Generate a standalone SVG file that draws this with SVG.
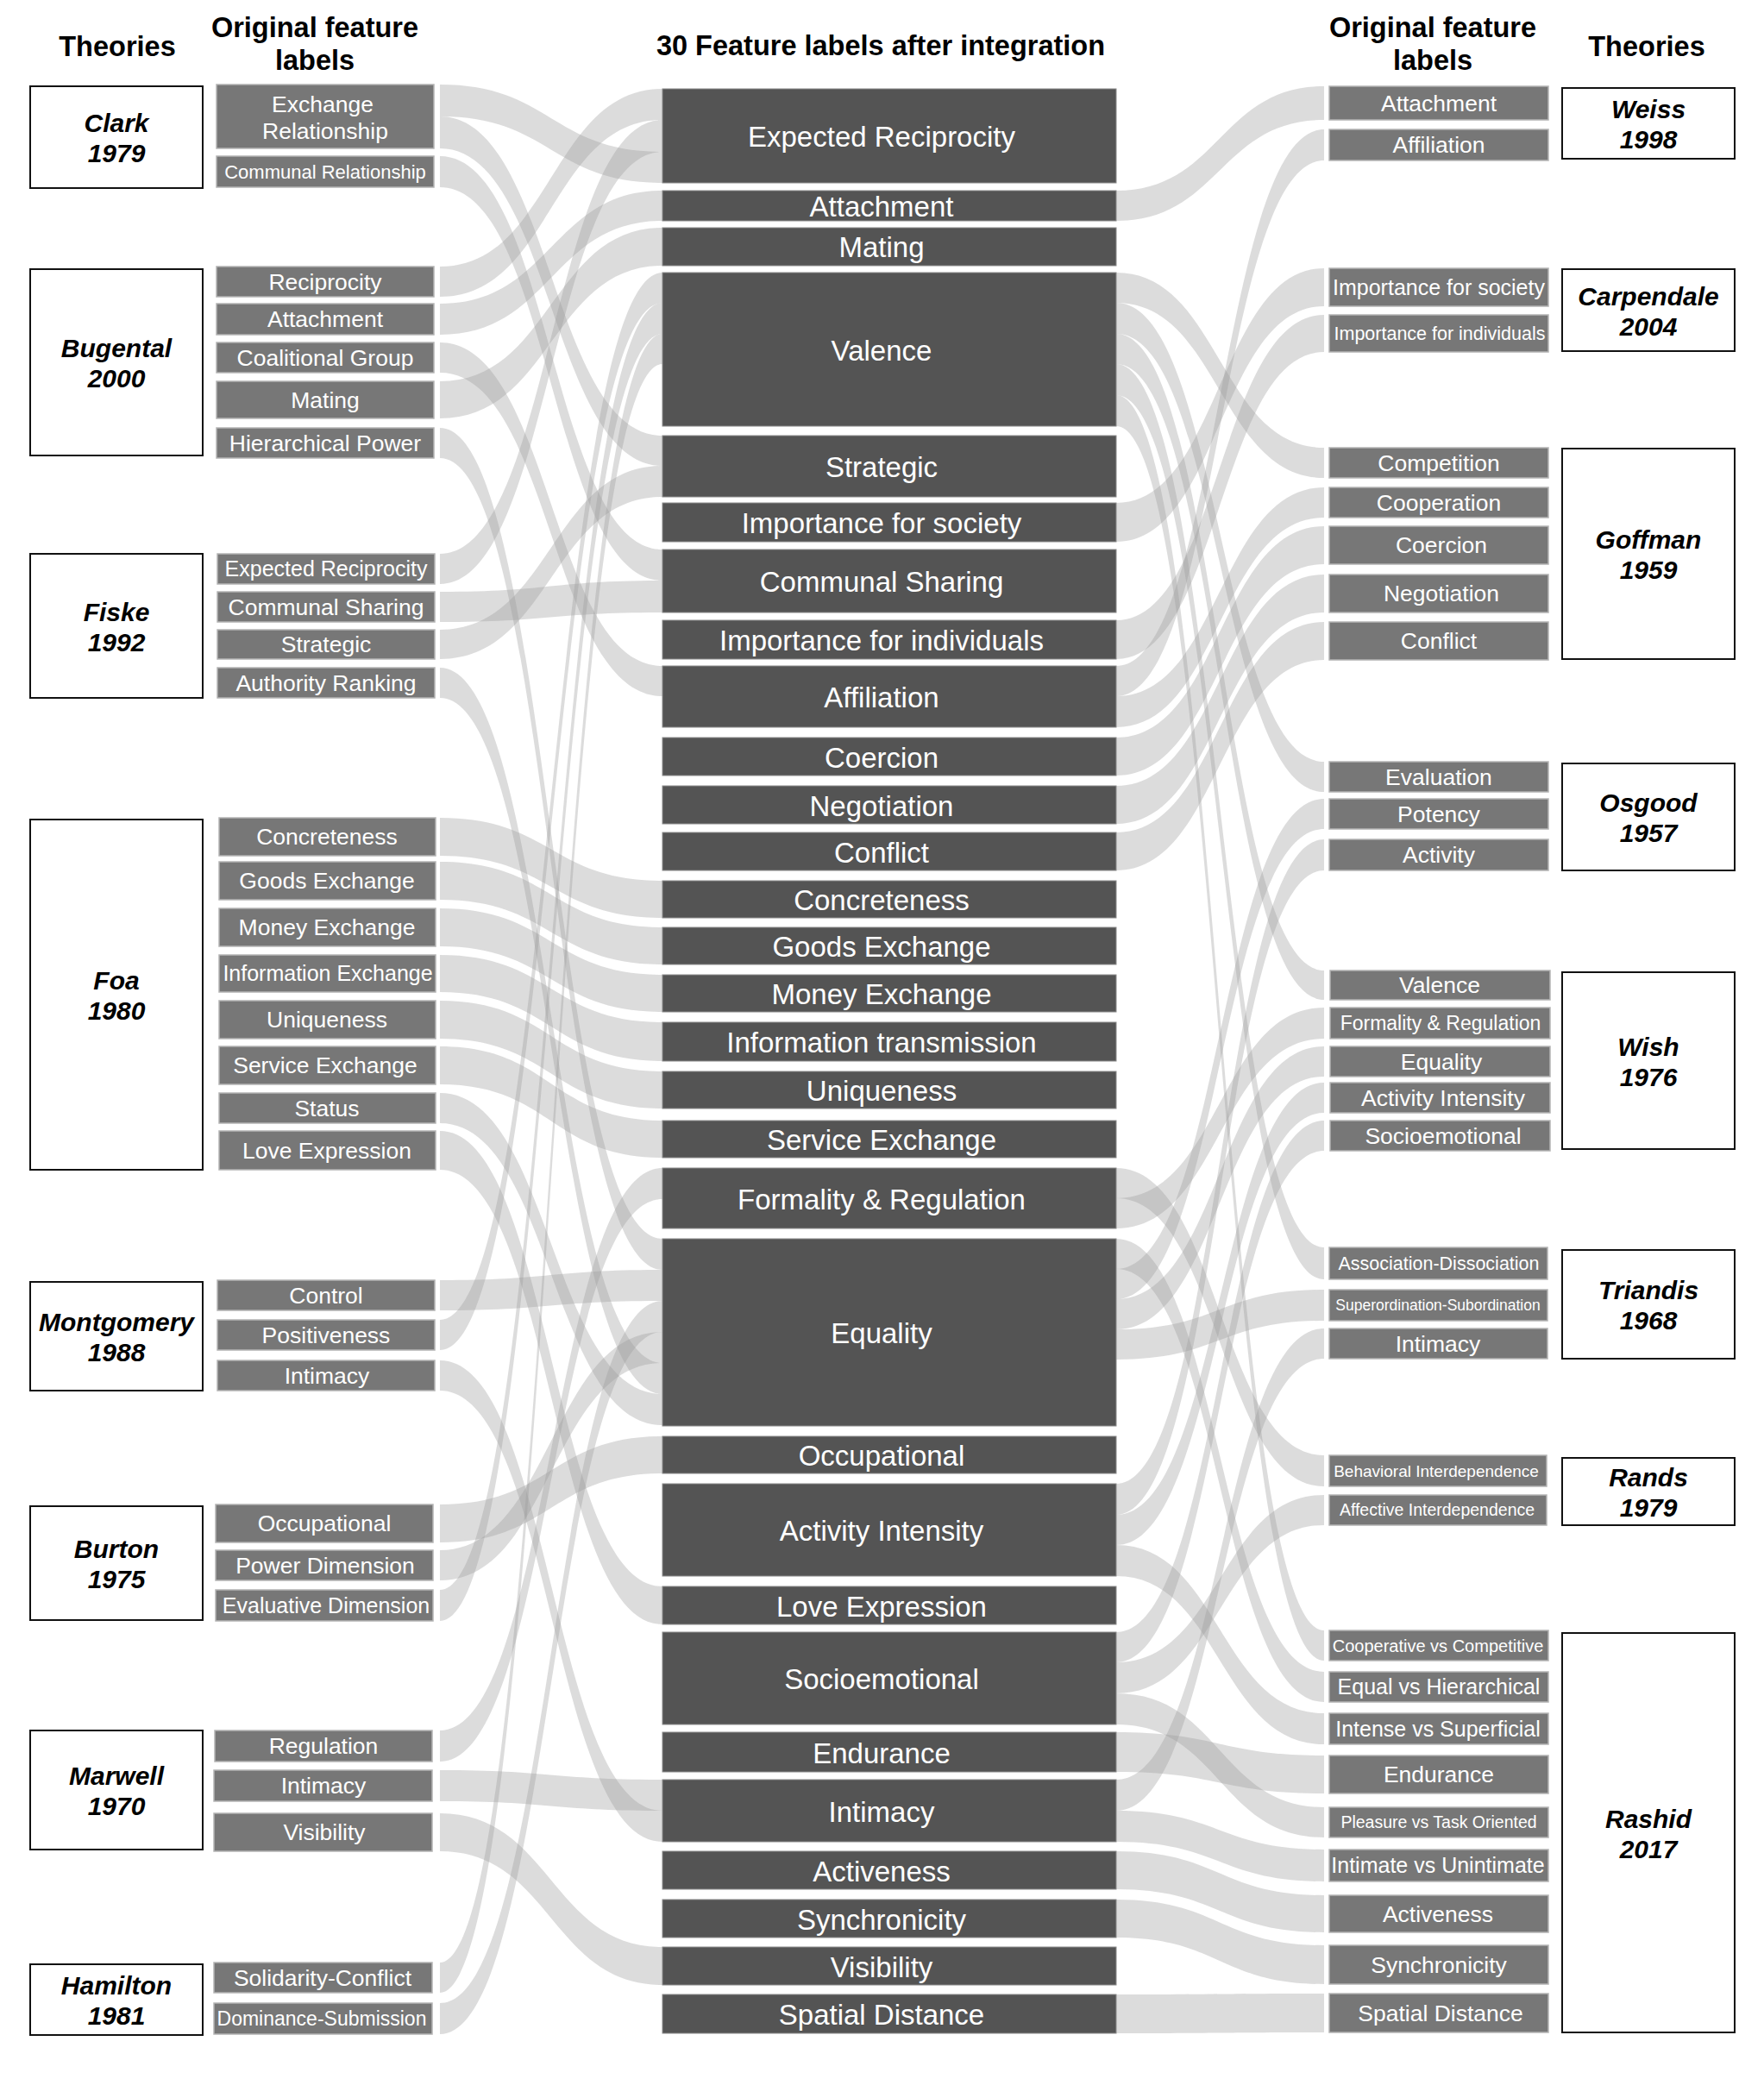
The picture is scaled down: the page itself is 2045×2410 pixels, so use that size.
<svg xmlns="http://www.w3.org/2000/svg" width="2045" height="2410" viewBox="0 0 2045 2410">
<style>
.hd{font-family:"Liberation Sans",Arial,sans-serif;font-weight:bold;font-size:32.5px;text-anchor:middle;fill:#000}
.th{font-family:"Liberation Sans",Arial,sans-serif;font-weight:bold;font-style:italic;font-size:30px;text-anchor:middle;fill:#000}
.tb{fill:#fff;stroke:#111;stroke-width:2}
.fb{fill:#777;stroke:#b4b4b4;stroke-width:1.5}
.mb{fill:#545454;stroke:#8a8a8a;stroke-width:1}
.lt{font-family:"Liberation Sans",Arial,sans-serif;font-size:26.5px;text-anchor:middle;fill:#fff}
.mt{font-family:"Liberation Sans",Arial,sans-serif;font-size:33px;text-anchor:middle;fill:#fff}
.cn path{fill:#999;fill-opacity:0.34}
</style>
<rect width="2045" height="2410" fill="#fff"/>
<g id="headers">
<text class="hd" x="136" y="65">Theories</text>
<text class="hd" x="365" y="43">Original feature</text>
<text class="hd" x="365" y="81">labels</text>
<text class="hd" x="1021" y="64">30 Feature labels after integration</text>
<text class="hd" x="1661" y="43">Original feature</text>
<text class="hd" x="1661" y="81">labels</text>
<text class="hd" x="1909" y="65">Theories</text>
</g>
<g id="connectors" class="cn">
<path d="M510,98 C639,98 639,176 768,176 L768,212 C639,212 639,135 510,135 Z"/>
<path d="M510,135 C639,135 639,505 768,505 L768,540 C639,540 639,172 510,172 Z"/>
<path d="M510,181 C639,181 639,637 768,637 L768,673 C639,673 639,217 510,217 Z"/>
<path d="M510,309 C639,309 639,103 768,103 L768,139 C639,139 639,344 510,344 Z"/>
<path d="M510,352 C639,352 639,221 768,221 L768,256 C639,256 639,388 510,388 Z"/>
<path d="M510,397 C639,397 639,772 768,772 L768,807 C639,807 639,432 510,432 Z"/>
<path d="M510,442 C639,442 639,264 768,264 L768,308 C639,308 639,485 510,485 Z"/>
<path d="M510,496 C639,496 639,1436 768,1436 L768,1472 C639,1472 639,531 510,531 Z"/>
<path d="M510,642 C639,642 639,139 768,139 L768,176 C639,176 639,677 510,677 Z"/>
<path d="M510,686 C639,686 639,673 768,673 L768,710 C639,710 639,721 510,721 Z"/>
<path d="M510,730 C639,730 639,540 768,540 L768,576 C639,576 639,764 510,764 Z"/>
<path d="M510,774 C639,774 639,1580 768,1580 L768,1616 C639,1616 639,809 510,809 Z"/>
<path d="M510,948 C639,948 639,1021 768,1021 L768,1064 C639,1064 639,992 510,992 Z"/>
<path d="M510,999 C639,999 639,1075 768,1075 L768,1118 C639,1118 639,1043 510,1043 Z"/>
<path d="M510,1053 C639,1053 639,1130 768,1130 L768,1173 C639,1173 639,1097 510,1097 Z"/>
<path d="M510,1107 C639,1107 639,1185 768,1185 L768,1230 C639,1230 639,1150 510,1150 Z"/>
<path d="M510,1160 C639,1160 639,1242 768,1242 L768,1285 C639,1285 639,1204 510,1204 Z"/>
<path d="M510,1213 C639,1213 639,1299 768,1299 L768,1342 C639,1342 639,1257 510,1257 Z"/>
<path d="M510,1267 C639,1267 639,1616 768,1616 L768,1652 C639,1652 639,1302 510,1302 Z"/>
<path d="M510,1311 C639,1311 639,1839 768,1839 L768,1883 C639,1883 639,1356 510,1356 Z"/>
<path d="M510,1484 C639,1484 639,1472 768,1472 L768,1508 C639,1508 639,1519 510,1519 Z"/>
<path d="M510,1530 C639,1530 639,316 768,316 L768,351 C639,351 639,1565 510,1565 Z"/>
<path d="M510,1577 C639,1577 639,2099 768,2099 L768,2135 C639,2135 639,1612 510,1612 Z"/>
<path d="M510,1744 C639,1744 639,1665 768,1665 L768,1708 C639,1708 639,1788 510,1788 Z"/>
<path d="M510,1797 C639,1797 639,1544 768,1544 L768,1580 C639,1580 639,1832 510,1832 Z"/>
<path d="M510,1843 C639,1843 639,351 768,351 L768,387 C639,387 639,1879 510,1879 Z"/>
<path d="M510,2006 C639,2006 639,1354 768,1354 L768,1390 C639,1390 639,2042 510,2042 Z"/>
<path d="M510,2052 C639,2052 639,2063 768,2063 L768,2099 C639,2099 639,2088 510,2088 Z"/>
<path d="M510,2102 C639,2102 639,2257 768,2257 L768,2301 C639,2301 639,2146 510,2146 Z"/>
<path d="M510,2275 C639,2275 639,387 768,387 L768,422 C639,422 639,2310 510,2310 Z"/>
<path d="M510,2322 C639,2322 639,1508 768,1508 L768,1544 C639,1544 639,2358 510,2358 Z"/>
<path d="M1294,221 C1414,221 1414,100 1535,100 L1535,139 C1414,139 1414,256 1294,256 Z"/>
<path d="M1294,316 C1414,316 1414,519 1535,519 L1535,554 C1414,554 1414,351 1294,351 Z"/>
<path d="M1294,351 C1414,351 1414,883 1535,883 L1535,918 C1414,918 1414,387 1294,387 Z"/>
<path d="M1294,387 C1414,387 1414,1125 1535,1125 L1535,1159 C1414,1159 1414,422 1294,422 Z"/>
<path d="M1294,422 C1414,422 1414,1446 1535,1446 L1535,1483 C1414,1483 1414,458 1294,458 Z"/>
<path d="M1294,458 C1414,458 1414,1890 1535,1890 L1535,1925 C1414,1925 1414,494 1294,494 Z"/>
<path d="M1294,583 C1414,583 1414,311 1535,311 L1535,355 C1414,355 1414,628 1294,628 Z"/>
<path d="M1294,719 C1414,719 1414,365 1535,365 L1535,408 C1414,408 1414,764 1294,764 Z"/>
<path d="M1294,772 C1414,772 1414,150 1535,150 L1535,186 C1414,186 1414,807 1294,807 Z"/>
<path d="M1294,807 C1414,807 1414,565 1535,565 L1535,600 C1414,600 1414,843 1294,843 Z"/>
<path d="M1294,855 C1414,855 1414,610 1535,610 L1535,654 C1414,654 1414,899 1294,899 Z"/>
<path d="M1294,911 C1414,911 1414,666 1535,666 L1535,710 C1414,710 1414,955 1294,955 Z"/>
<path d="M1294,965 C1414,965 1414,721 1535,721 L1535,765 C1414,765 1414,1009 1294,1009 Z"/>
<path d="M1294,1354 C1414,1354 1414,1687 1535,1687 L1535,1723 C1414,1723 1414,1389 1294,1389 Z"/>
<path d="M1294,1389 C1414,1389 1414,1168 1535,1168 L1535,1204 C1414,1204 1414,1424 1294,1424 Z"/>
<path d="M1294,1436 C1414,1436 1414,1938 1535,1938 L1535,1973 C1414,1973 1414,1471 1294,1471 Z"/>
<path d="M1294,1471 C1414,1471 1414,926 1535,926 L1535,961 C1414,961 1414,1506 1294,1506 Z"/>
<path d="M1294,1506 C1414,1506 1414,1213 1535,1213 L1535,1248 C1414,1248 1414,1541 1294,1541 Z"/>
<path d="M1294,1541 C1414,1541 1414,1495 1535,1495 L1535,1531 C1414,1531 1414,1576 1294,1576 Z"/>
<path d="M1294,1720 C1414,1720 1414,973 1535,973 L1535,1009 C1414,1009 1414,1756 1294,1756 Z"/>
<path d="M1294,1756 C1414,1756 1414,1255 1535,1255 L1535,1290 C1414,1290 1414,1791 1294,1791 Z"/>
<path d="M1294,1791 C1414,1791 1414,1986 1535,1986 L1535,2022 C1414,2022 1414,1827 1294,1827 Z"/>
<path d="M1294,1892 C1414,1892 1414,1299 1535,1299 L1535,1334 C1414,1334 1414,1927 1294,1927 Z"/>
<path d="M1294,1927 C1414,1927 1414,1733 1535,1733 L1535,1768 C1414,1768 1414,1963 1294,1963 Z"/>
<path d="M1294,1963 C1414,1963 1414,2095 1535,2095 L1535,2130 C1414,2130 1414,1999 1294,1999 Z"/>
<path d="M1294,2008 C1414,2008 1414,2035 1535,2035 L1535,2079 C1414,2079 1414,2054 1294,2054 Z"/>
<path d="M1294,2063 C1414,2063 1414,1540 1535,1540 L1535,1575 C1414,1575 1414,2099 1294,2099 Z"/>
<path d="M1294,2099 C1414,2099 1414,2144 1535,2144 L1535,2181 C1414,2181 1414,2135 1294,2135 Z"/>
<path d="M1294,2146 C1414,2146 1414,2197 1535,2197 L1535,2240 C1414,2240 1414,2190 1294,2190 Z"/>
<path d="M1294,2202 C1414,2202 1414,2255 1535,2255 L1535,2300 C1414,2300 1414,2246 1294,2246 Z"/>
<path d="M1294,2312 C1414,2312 1414,2311 1535,2311 L1535,2356 C1414,2356 1414,2357 1294,2357 Z"/>
</g>
<g id="theories-left">
<g id="t-clark"><rect class="tb" x="35" y="100" width="200" height="118"/><text class="th" x="135" y="153">Clark</text><text class="th" x="135" y="188">1979</text></g>
<g id="t-bugental"><rect class="tb" x="35" y="312" width="200" height="216"/><text class="th" x="135" y="414">Bugental</text><text class="th" x="135" y="449">2000</text></g>
<g id="t-fiske"><rect class="tb" x="35" y="642" width="200" height="167"/><text class="th" x="135" y="719.5">Fiske</text><text class="th" x="135" y="754.5">1992</text></g>
<g id="t-foa"><rect class="tb" x="35" y="950" width="200" height="406"/><text class="th" x="135" y="1147">Foa</text><text class="th" x="135" y="1182">1980</text></g>
<g id="t-montgomery"><rect class="tb" x="35" y="1486" width="200" height="126"/><text class="th" x="135" y="1543">Montgomery</text><text class="th" x="135" y="1578">1988</text></g>
<g id="t-burton"><rect class="tb" x="35" y="1746" width="200" height="132"/><text class="th" x="135" y="1806">Burton</text><text class="th" x="135" y="1841">1975</text></g>
<g id="t-marwell"><rect class="tb" x="35" y="2006" width="200" height="138"/><text class="th" x="135" y="2069">Marwell</text><text class="th" x="135" y="2104">1970</text></g>
<g id="t-hamilton"><rect class="tb" x="35" y="2277" width="200" height="82"/><text class="th" x="135" y="2312">Hamilton</text><text class="th" x="135" y="2347">1981</text></g>
</g>
<g id="theories-right">
<g id="t-weiss"><rect class="tb" x="1811" y="102" width="200" height="82"/><text class="th" x="1911" y="137">Weiss</text><text class="th" x="1911" y="172">1998</text></g>
<g id="t-carpendale"><rect class="tb" x="1811" y="312" width="200" height="95"/><text class="th" x="1911" y="353.5">Carpendale</text><text class="th" x="1911" y="388.5">2004</text></g>
<g id="t-goffman"><rect class="tb" x="1811" y="520" width="200" height="244"/><text class="th" x="1911" y="636">Goffman</text><text class="th" x="1911" y="671">1959</text></g>
<g id="t-osgood"><rect class="tb" x="1811" y="885" width="200" height="124"/><text class="th" x="1911" y="941">Osgood</text><text class="th" x="1911" y="976">1957</text></g>
<g id="t-wish"><rect class="tb" x="1811" y="1127" width="200" height="205"/><text class="th" x="1911" y="1223.5">Wish</text><text class="th" x="1911" y="1258.5">1976</text></g>
<g id="t-triandis"><rect class="tb" x="1811" y="1449" width="200" height="126"/><text class="th" x="1911" y="1506">Triandis</text><text class="th" x="1911" y="1541">1968</text></g>
<g id="t-rands"><rect class="tb" x="1811" y="1690" width="200" height="78"/><text class="th" x="1911" y="1723">Rands</text><text class="th" x="1911" y="1758">1979</text></g>
<g id="t-rashid"><rect class="tb" x="1811" y="1893" width="200" height="463"/><text class="th" x="1911" y="2118.5">Rashid</text><text class="th" x="1911" y="2153.5">2017</text></g>
</g>
<g id="labels-left">
<g id="l-exchange"><rect class="fb" x="251" y="98" width="252" height="74"/><text class="lt" x="374" y="130">Exchange</text><text class="lt" x="377" y="161">Relationship</text></g>
<g id="l-communal-rel"><rect class="fb" x="251" y="181" width="252" height="36"/><text class="lt" x="377" y="206.7" style="font-size:22px">Communal Relationship</text></g>
<g id="l-reciprocity"><rect class="fb" x="251" y="309" width="252" height="35"/><text class="lt" x="377" y="335.8">Reciprocity</text></g>
<g id="l-attachment"><rect class="fb" x="251" y="352" width="252" height="36"/><text class="lt" x="377" y="379.3">Attachment</text></g>
<g id="l-coalitional"><rect class="fb" x="251" y="397" width="252" height="35"/><text class="lt" x="377" y="423.8">Coalitional Group</text></g>
<g id="l-mating"><rect class="fb" x="251" y="442" width="252" height="43"/><text class="lt" x="377" y="472.8">Mating</text></g>
<g id="l-hierarchical"><rect class="fb" x="251" y="496" width="252" height="35"/><text class="lt" x="377" y="522.8">Hierarchical Power</text></g>
<g id="l-expected"><rect class="fb" x="252" y="642" width="252" height="35"/><text class="lt" x="378" y="668.3" style="font-size:25px">Expected Reciprocity</text></g>
<g id="l-communal-sharing"><rect class="fb" x="252" y="686" width="252" height="35"/><text class="lt" x="378" y="712.8">Communal Sharing</text></g>
<g id="l-strategic"><rect class="fb" x="252" y="730" width="252" height="34"/><text class="lt" x="378" y="756.3">Strategic</text></g>
<g id="l-authority"><rect class="fb" x="252" y="774" width="252" height="35"/><text class="lt" x="378" y="800.8">Authority Ranking</text></g>
<g id="l-concreteness"><rect class="fb" x="254" y="948" width="251" height="44"/><text class="lt" x="379" y="979.3">Concreteness</text></g>
<g id="l-goods"><rect class="fb" x="254" y="999" width="251" height="44"/><text class="lt" x="379" y="1030.3">Goods Exchange</text></g>
<g id="l-money"><rect class="fb" x="254" y="1053" width="251" height="44"/><text class="lt" x="379" y="1084.3">Money Exchange</text></g>
<g id="l-information"><rect class="fb" x="254" y="1107" width="251" height="43"/><text class="lt" x="380" y="1137.3" style="font-size:25px">Information Exchange</text></g>
<g id="l-uniqueness"><rect class="fb" x="254" y="1160" width="251" height="44"/><text class="lt" x="379" y="1191.3">Uniqueness</text></g>
<g id="l-service"><rect class="fb" x="254" y="1213" width="251" height="44"/><text class="lt" x="377" y="1244.3">Service Exchange</text></g>
<g id="l-status"><rect class="fb" x="254" y="1267" width="251" height="35"/><text class="lt" x="379" y="1293.8">Status</text></g>
<g id="l-love"><rect class="fb" x="254" y="1311" width="251" height="45"/><text class="lt" x="379" y="1342.8">Love Expression</text></g>
<g id="l-control"><rect class="fb" x="252" y="1484" width="252" height="35"/><text class="lt" x="378" y="1510.8">Control</text></g>
<g id="l-positiveness"><rect class="fb" x="252" y="1530" width="252" height="35"/><text class="lt" x="378" y="1556.8">Positiveness</text></g>
<g id="l-intimacy-m"><rect class="fb" x="252" y="1577" width="252" height="35"/><text class="lt" x="379" y="1603.8">Intimacy</text></g>
<g id="l-occupational"><rect class="fb" x="250" y="1744" width="252" height="44"/><text class="lt" x="376" y="1775.3">Occupational</text></g>
<g id="l-power"><rect class="fb" x="250" y="1797" width="252" height="35"/><text class="lt" x="377" y="1823.8">Power Dimension</text></g>
<g id="l-evaluative"><rect class="fb" x="250" y="1843" width="252" height="36"/><text class="lt" x="378" y="1869.8" style="font-size:25px">Evaluative Dimension</text></g>
<g id="l-regulation"><rect class="fb" x="249" y="2006" width="252" height="36"/><text class="lt" x="375" y="2033.3">Regulation</text></g>
<g id="l-intimacy-mw"><rect class="fb" x="248" y="2052" width="253" height="36"/><text class="lt" x="375" y="2079.3">Intimacy</text></g>
<g id="l-visibility"><rect class="fb" x="248" y="2102" width="253" height="44"/><text class="lt" x="376" y="2133.3">Visibility</text></g>
<g id="l-solidarity"><rect class="fb" x="248" y="2275" width="253" height="35"/><text class="lt" x="374" y="2301.8">Solidarity-Conflict</text></g>
<g id="l-dominance"><rect class="fb" x="248" y="2322" width="253" height="36"/><text class="lt" x="373" y="2348" style="font-size:23px">Dominance-Submission</text></g>
</g>
<g id="integrated">
<g id="m-expected"><rect class="mb" x="768" y="103" width="526" height="109"/><text class="mt" x="1022" y="170">Expected Reciprocity</text></g>
<g id="m-attachment"><rect class="mb" x="768" y="221" width="526" height="35"/><text class="mt" x="1022" y="250.5">Attachment</text></g>
<g id="m-mating"><rect class="mb" x="768" y="264" width="526" height="44"/><text class="mt" x="1022" y="298">Mating</text></g>
<g id="m-valence"><rect class="mb" x="768" y="316" width="526" height="178"/><text class="mt" x="1022" y="418">Valence</text></g>
<g id="m-strategic"><rect class="mb" x="768" y="505" width="526" height="71"/><text class="mt" x="1022" y="553">Strategic</text></g>
<g id="m-impsoc"><rect class="mb" x="768" y="583" width="526" height="45"/><text class="mt" x="1022" y="618">Importance for society</text></g>
<g id="m-communal"><rect class="mb" x="768" y="637" width="526" height="73"/><text class="mt" x="1022" y="686">Communal Sharing</text></g>
<g id="m-impind"><rect class="mb" x="768" y="719" width="526" height="45"/><text class="mt" x="1022" y="754">Importance for individuals</text></g>
<g id="m-affiliation"><rect class="mb" x="768" y="772" width="526" height="71"/><text class="mt" x="1022" y="820">Affiliation</text></g>
<g id="m-coercion"><rect class="mb" x="768" y="855" width="526" height="44"/><text class="mt" x="1022" y="889.5">Coercion</text></g>
<g id="m-negotiation"><rect class="mb" x="768" y="911" width="526" height="44"/><text class="mt" x="1022" y="945.5">Negotiation</text></g>
<g id="m-conflict"><rect class="mb" x="768" y="965" width="526" height="44"/><text class="mt" x="1022" y="999.5">Conflict</text></g>
<g id="m-concreteness"><rect class="mb" x="768" y="1021" width="526" height="43"/><text class="mt" x="1022" y="1055">Concreteness</text></g>
<g id="m-goods"><rect class="mb" x="768" y="1075" width="526" height="43"/><text class="mt" x="1022" y="1109">Goods Exchange</text></g>
<g id="m-money"><rect class="mb" x="768" y="1130" width="526" height="43"/><text class="mt" x="1022" y="1164">Money Exchange</text></g>
<g id="m-information"><rect class="mb" x="768" y="1185" width="526" height="45"/><text class="mt" x="1022" y="1220">Information transmission</text></g>
<g id="m-uniqueness"><rect class="mb" x="768" y="1242" width="526" height="43"/><text class="mt" x="1022" y="1276">Uniqueness</text></g>
<g id="m-service"><rect class="mb" x="768" y="1299" width="526" height="43"/><text class="mt" x="1022" y="1333">Service Exchange</text></g>
<g id="m-formality"><rect class="mb" x="768" y="1354" width="526" height="70"/><text class="mt" x="1022" y="1401.5">Formality &amp; Regulation</text></g>
<g id="m-equality"><rect class="mb" x="768" y="1436" width="526" height="217"/><text class="mt" x="1022" y="1557">Equality</text></g>
<g id="m-occupational"><rect class="mb" x="768" y="1665" width="526" height="43"/><text class="mt" x="1022" y="1699">Occupational</text></g>
<g id="m-activity"><rect class="mb" x="768" y="1720" width="526" height="107"/><text class="mt" x="1022" y="1786">Activity Intensity</text></g>
<g id="m-love"><rect class="mb" x="768" y="1839" width="526" height="44"/><text class="mt" x="1022" y="1873.5">Love Expression</text></g>
<g id="m-socio"><rect class="mb" x="768" y="1892" width="526" height="107"/><text class="mt" x="1022" y="1958">Socioemotional</text></g>
<g id="m-endurance"><rect class="mb" x="768" y="2008" width="526" height="46"/><text class="mt" x="1022" y="2043.5">Endurance</text></g>
<g id="m-intimacy"><rect class="mb" x="768" y="2063" width="526" height="72"/><text class="mt" x="1022" y="2111.5">Intimacy</text></g>
<g id="m-activeness"><rect class="mb" x="768" y="2146" width="526" height="44"/><text class="mt" x="1022" y="2180.5">Activeness</text></g>
<g id="m-synchronicity"><rect class="mb" x="768" y="2202" width="526" height="44"/><text class="mt" x="1022" y="2236.5">Synchronicity</text></g>
<g id="m-visibility"><rect class="mb" x="768" y="2257" width="526" height="44"/><text class="mt" x="1022" y="2291.5">Visibility</text></g>
<g id="m-spatial"><rect class="mb" x="768" y="2312" width="526" height="45"/><text class="mt" x="1022" y="2347">Spatial Distance</text></g>
</g>
<g id="labels-right">
<g id="r-attachment"><rect class="fb" x="1541" y="100" width="254" height="39"/><text class="lt" x="1668" y="128.8">Attachment</text></g>
<g id="r-affiliation"><rect class="fb" x="1541" y="150" width="254" height="36"/><text class="lt" x="1668" y="177.3">Affiliation</text></g>
<g id="r-impsoc"><rect class="fb" x="1541" y="311" width="254" height="44"/><text class="lt" x="1668" y="341.8" style="font-size:25px">Importance for society</text></g>
<g id="r-impind"><rect class="fb" x="1541" y="365" width="254" height="43"/><text class="lt" x="1669" y="394" style="font-size:21.5px">Importance for individuals</text></g>
<g id="r-competition"><rect class="fb" x="1541" y="519" width="254" height="35"/><text class="lt" x="1668" y="545.8">Competition</text></g>
<g id="r-cooperation"><rect class="fb" x="1541" y="565" width="254" height="35"/><text class="lt" x="1668" y="591.8">Cooperation</text></g>
<g id="r-coercion"><rect class="fb" x="1541" y="610" width="254" height="44"/><text class="lt" x="1671" y="641.3">Coercion</text></g>
<g id="r-negotiation"><rect class="fb" x="1541" y="666" width="254" height="44"/><text class="lt" x="1671" y="697.3">Negotiation</text></g>
<g id="r-conflict"><rect class="fb" x="1541" y="721" width="254" height="44"/><text class="lt" x="1668" y="752.3">Conflict</text></g>
<g id="r-evaluation"><rect class="fb" x="1541" y="883" width="254" height="35"/><text class="lt" x="1668" y="909.8">Evaluation</text></g>
<g id="r-potency"><rect class="fb" x="1541" y="926" width="254" height="35"/><text class="lt" x="1668" y="952.8">Potency</text></g>
<g id="r-activity"><rect class="fb" x="1541" y="973" width="254" height="36"/><text class="lt" x="1668" y="1000.3">Activity</text></g>
<g id="r-valence"><rect class="fb" x="1542" y="1125" width="255" height="34"/><text class="lt" x="1669" y="1151.3">Valence</text></g>
<g id="r-formality"><rect class="fb" x="1542" y="1168" width="255" height="36"/><text class="lt" x="1670" y="1194" style="font-size:23px">Formality &amp; Regulation</text></g>
<g id="r-equality"><rect class="fb" x="1542" y="1213" width="255" height="35"/><text class="lt" x="1671" y="1239.8">Equality</text></g>
<g id="r-actint"><rect class="fb" x="1542" y="1255" width="255" height="35"/><text class="lt" x="1673" y="1281.8">Activity Intensity</text></g>
<g id="r-socio"><rect class="fb" x="1542" y="1299" width="255" height="35"/><text class="lt" x="1673" y="1325.8">Socioemotional</text></g>
<g id="r-assoc"><rect class="fb" x="1541" y="1446" width="253" height="37"/><text class="lt" x="1668" y="1472" style="font-size:21.5px">Association-Dissociation</text></g>
<g id="r-superord"><rect class="fb" x="1541" y="1495" width="253" height="36"/><text class="lt" x="1667" y="1519" style="font-size:17.5px">Superordination-Subordination</text></g>
<g id="r-intimacy"><rect class="fb" x="1541" y="1540" width="253" height="35"/><text class="lt" x="1667" y="1566.8">Intimacy</text></g>
<g id="r-behavioral"><rect class="fb" x="1541" y="1687" width="252" height="36"/><text class="lt" x="1665" y="1711.7" style="font-size:19px">Behavioral Interdependence</text></g>
<g id="r-affective"><rect class="fb" x="1541" y="1733" width="252" height="35"/><text class="lt" x="1666" y="1757.3" style="font-size:19.5px">Affective Interdependence</text></g>
<g id="r-coopcomp"><rect class="fb" x="1541" y="1890" width="254" height="35"/><text class="lt" x="1667" y="1914.5" style="font-size:20px">Cooperative vs Competitive</text></g>
<g id="r-equalhier"><rect class="fb" x="1541" y="1938" width="254" height="35"/><text class="lt" x="1668" y="1964.3" style="font-size:25px">Equal vs Hierarchical</text></g>
<g id="r-intense"><rect class="fb" x="1541" y="1986" width="254" height="36"/><text class="lt" x="1667" y="2012.8" style="font-size:25px">Intense vs Superficial</text></g>
<g id="r-endurance"><rect class="fb" x="1541" y="2035" width="254" height="44"/><text class="lt" x="1668" y="2066.3">Endurance</text></g>
<g id="r-pleasure"><rect class="fb" x="1541" y="2095" width="254" height="35"/><text class="lt" x="1668" y="2119.3" style="font-size:19.5px">Pleasure vs Task Oriented</text></g>
<g id="r-intimate"><rect class="fb" x="1541" y="2144" width="254" height="37"/><text class="lt" x="1667" y="2171.3" style="font-size:25px">Intimate vs Unintimate</text></g>
<g id="r-activeness"><rect class="fb" x="1541" y="2197" width="254" height="43"/><text class="lt" x="1667" y="2227.8">Activeness</text></g>
<g id="r-synchronicity"><rect class="fb" x="1541" y="2255" width="254" height="45"/><text class="lt" x="1668" y="2286.8">Synchronicity</text></g>
<g id="r-spatial"><rect class="fb" x="1541" y="2311" width="254" height="45"/><text class="lt" x="1670" y="2342.8">Spatial Distance</text></g>
</g>
</svg>
